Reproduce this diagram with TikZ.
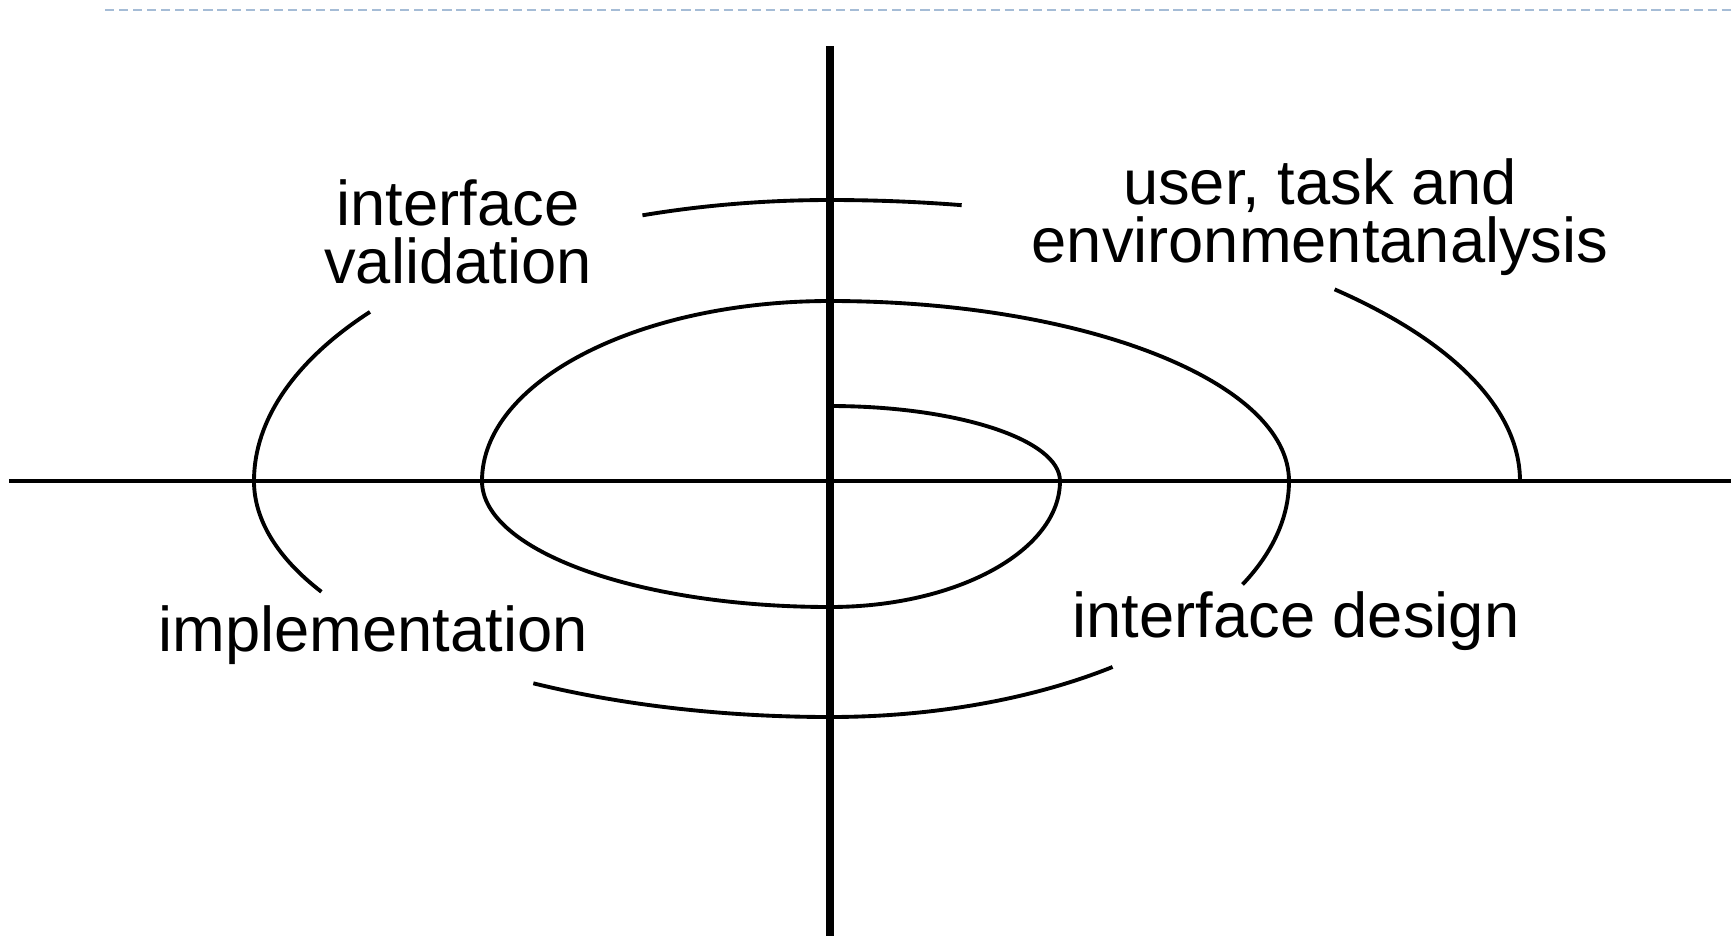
\documentclass[tikz,border=0pt]{standalone}
\usepackage{fontspec}
\setmainfont{Liberation Sans}
\usetikzlibrary{positioning}
\definecolor{ruleblue}{RGB}{165, 188, 214}
\tikzset{
    % axes of the spiral
    axisline/.style={
        draw=black,
        line width=1.15pt
    },
    axisthick/.style={
        draw=black,
        line width=2pt
    },
    spiralline/.style={
        draw=black,
        line width=1.1pt
    },
    rulerline/.style={
        draw=ruleblue,
        line width=0.6pt,
        dash pattern=on 2.6pt off 1.4pt
    },
    phaselabel/.style={
        inner sep=0pt,
        align=center,
        font=\fontsize{18}{16.5}\selectfont
    }
}

\begin{document}
\begin{tikzpicture}
    \useasboundingbox (-8.30,4.81) rectangle (9.01,-4.59);
    % dashed rule at the top
    \coordinate (ruleL) at (-7.25,4.71);
    \coordinate (ruleR) at (9.01,4.71);
    \draw[rulerline] (ruleL) -- (ruleR);

    % axes
    \coordinate (O) at (0,0);
    \coordinate (xL) at (-8.21,0);
    \coordinate (xR) at (9.01,0);
    \coordinate (yT) at (0,4.35);
    \coordinate (yB) at (0,-4.55);
    \draw[axisline] (xL) -- (xR);
    \draw[axisthick] (yT) -- (yB);

    % spiral, inner part
    \draw[spiralline] (0,0.75)
        arc[start angle=90, end angle=0, x radius=2.30, y radius=0.75]
        arc[start angle=0, end angle=-90, x radius=2.30, y radius=1.26]
        arc[start angle=-90, end angle=-180, x radius=3.48, y radius=1.26]
        arc[start angle=180, end angle=90, x radius=3.48, y radius=1.80]
        arc[start angle=90, end angle=0, x radius=4.59, y radius=1.80]
        arc[start angle=0, end angle=-26, x radius=4.59, y radius=2.36];
    % spiral, outer pieces
    \draw[spiralline] (-52:4.59 and 2.36)
        arc[start angle=-52, end angle=-90, x radius=4.59, y radius=2.36]
        arc[start angle=-90, end angle=-121, x radius=5.76, y radius=2.36];
    \draw[spiralline] (-152:5.76 and 2.36)
        arc[start angle=-152, end angle=-180, x radius=5.76, y radius=2.36]
        arc[start angle=180, end angle=143, x radius=5.76, y radius=2.81];
    \draw[spiralline] (109:5.76 and 2.81)
        arc[start angle=109, end angle=90, x radius=5.76, y radius=2.81]
        arc[start angle=90, end angle=79, x radius=6.90, y radius=2.81];
    \draw[spiralline] (43:6.90 and 2.81)
        arc[start angle=43, end angle=0, x radius=6.90, y radius=2.81];

    % labels
    \node[phaselabel, anchor=base] (validation) at (-3.72,1.98) {interface\\validation};
    \node[phaselabel, anchor=base] (analysis) at (4.90,2.19) {user, task and\\environmentanalysis};
    \node[phaselabel, anchor=base] (implementation) at (-4.57,-1.70) {implementation};
    \node[phaselabel, anchor=base] (design) at (4.66,-1.56) {interface design};
\end{tikzpicture}
\end{document}
